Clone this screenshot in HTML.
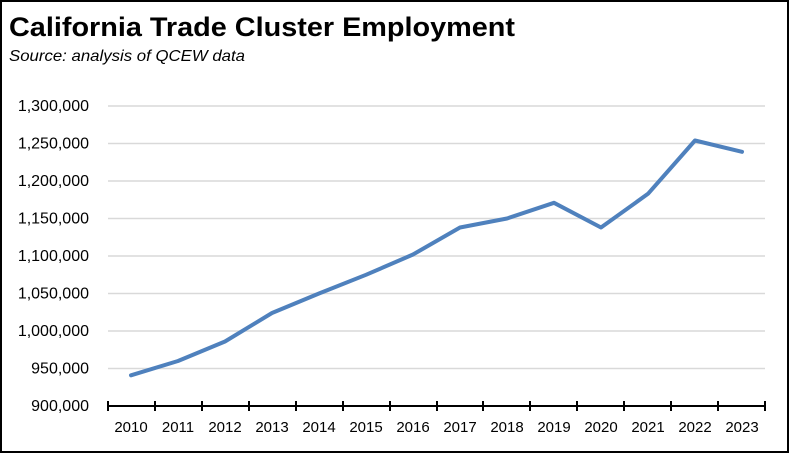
<!DOCTYPE html>
<html><head><style>
html,body{margin:0;padding:0;background:#fff;}
body{width:789px;height:454px;overflow:hidden;}
</style></head><body>
<svg width="789" height="454" xmlns="http://www.w3.org/2000/svg" font-family="Liberation Sans, sans-serif">
<rect x="1" y="1" width="787" height="451" fill="#fff" stroke="#000" stroke-width="2"/>
<text x="9" y="36" font-size="27" font-weight="bold" fill="#000" textLength="506" lengthAdjust="spacingAndGlyphs">California Trade Cluster Employment</text>
<text x="9" y="61" font-size="16" font-style="italic" fill="#000" textLength="236" lengthAdjust="spacingAndGlyphs">Source:  analysis of QCEW data</text>
<g stroke="#d9d9d9" stroke-width="1.5">
<line x1="108" x2="765" y1="106" y2="106"/><line x1="108" x2="765" y1="143.5" y2="143.5"/>
<line x1="108" x2="765" y1="181" y2="181"/><line x1="108" x2="765" y1="218.5" y2="218.5"/>
<line x1="108" x2="765" y1="256" y2="256"/><line x1="108" x2="765" y1="293.5" y2="293.5"/>
<line x1="108" x2="765" y1="331" y2="331"/><line x1="108" x2="765" y1="368.5" y2="368.5"/>
</g>
<g font-size="16" text-anchor="end" fill="#000">
<text x="89" y="111">1,300,000</text><text x="89" y="148.5">1,250,000</text>
<text x="89" y="186">1,200,000</text><text x="89" y="223.5">1,150,000</text>
<text x="89" y="261">1,100,000</text><text x="89" y="298.5">1,050,000</text>
<text x="89" y="336">1,000,000</text><text x="89" y="373.5">950,000</text>
<text x="89" y="411">900,000</text>
</g>
<g stroke="#000" stroke-width="2">
<line x1="108" x2="765" y1="406" y2="406"/>
<line x1="108" x2="108" y1="401" y2="411"/><line x1="155" x2="155" y1="401" y2="411"/>
<line x1="202" x2="202" y1="401" y2="411"/><line x1="249" x2="249" y1="401" y2="411"/>
<line x1="296" x2="296" y1="401" y2="411"/><line x1="343" x2="343" y1="401" y2="411"/>
<line x1="390" x2="390" y1="401" y2="411"/><line x1="437" x2="437" y1="401" y2="411"/>
<line x1="483" x2="483" y1="401" y2="411"/><line x1="530" x2="530" y1="401" y2="411"/>
<line x1="577" x2="577" y1="401" y2="411"/><line x1="624" x2="624" y1="401" y2="411"/>
<line x1="671" x2="671" y1="401" y2="411"/><line x1="718" x2="718" y1="401" y2="411"/>
<line x1="765" x2="765" y1="401" y2="411"/>
</g>
<g font-size="15" text-anchor="middle" fill="#000">
<text x="131" y="432">2010</text><text x="178" y="432">2011</text><text x="225" y="432">2012</text>
<text x="272" y="432">2013</text><text x="319" y="432">2014</text><text x="366" y="432">2015</text>
<text x="413" y="432">2016</text><text x="460" y="432">2017</text><text x="507" y="432">2018</text>
<text x="554" y="432">2019</text><text x="601" y="432">2020</text><text x="648" y="432">2021</text>
<text x="695" y="432">2022</text><text x="742" y="432">2023</text>
</g>
<polyline fill="none" stroke="#4f81bd" stroke-width="4" stroke-linejoin="round" stroke-linecap="round"
points="131,375.3 178,361 225,341.5 272,313 319,293.5 366,274.8 413,254.5 460,227.5 507,218.5 554,202.8 601,227.5 648,193.8 695,140.5 742,151.8"/>
</svg>
</body></html>
